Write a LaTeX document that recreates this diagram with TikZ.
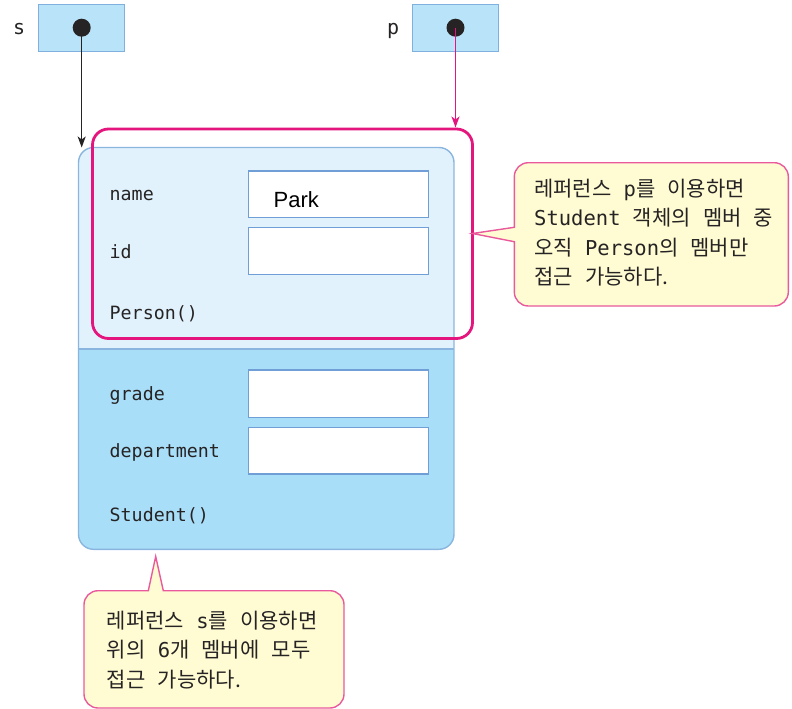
\documentclass[tikz,border=0pt]{standalone}
\usepackage{fontspec}
\setmainfont{Noto Sans CJK KR}
\newfontfamily\krfont[WordSpace=2.6]{Noto Sans CJK KR}
\newfontfamily\monofont{DejaVu Sans Mono}
\newfontfamily\arialfont{Liberation Sans}
\newcommand\latinpart[1]{{\monofont\fontsize{20.5}{29.3}\selectfont #1}}
\usetikzlibrary{arrows.meta}
\definecolor{refbox}{HTML}{B9E3F8}
\definecolor{refborder}{HTML}{7FB0DE}
\definecolor{toplight}{HTML}{E1F2FC}
\definecolor{botdark}{HTML}{A9DEF8}
\definecolor{objborder}{HTML}{8AB5DE}
\definecolor{fieldborder}{HTML}{6F9FD6}
\definecolor{hotpink}{HTML}{E5157E}
\definecolor{callfill}{HTML}{FFFCD3}
\definecolor{callborder}{HTML}{E95A9C}
\definecolor{ink}{HTML}{262324}
\tikzset{
  refcell/.style={draw=refborder, fill=refbox, line width=1.2pt},
  refdot/.style={circle, fill=ink, inner sep=0pt, minimum size=18pt},
  fieldbox/.style={draw=fieldborder, fill=white, line width=1.3pt, inner sep=0pt},
  monolabel/.style={anchor=base west, inner sep=0pt, text=ink, font=\monofont\fontsize{18.3}{20}\selectfont},
  calltext/.style={anchor=north west, inner sep=0pt, align=left, text=ink, font=\krfont\fontsize{21}{29.3}\selectfont},
  callout/.style={draw=callborder, fill=callfill, line width=1.4pt},
  arr/.style={-{Stealth[length=11pt,width=8pt,inset=3pt]}, line width=1.5pt}
}
\begin{document}
\begin{tikzpicture}[x=1pt,y=-1pt]
\useasboundingbox (0,0) rectangle (792,709);
% reference variables
\node[refcell, minimum width=85.5pt, minimum height=47.5pt, inner sep=0pt] (sbox) at (81.4,27.9) {};
\node[refcell, minimum width=85.5pt, minimum height=47.5pt, inner sep=0pt] (pbox) at (455.5,27.9) {};
\node[refdot] (sdot) at (81.7,27.7) {};
\node[refdot] (pdot) at (455.5,27.7) {};
\node[monolabel, font=\monofont\fontsize{20}{22}\selectfont] (slabel) at (13,35) {s};
\node[monolabel, font=\monofont\fontsize{20}{22}\selectfont] (plabel) at (387,35) {p};
% object
\begin{scope}
\clip[rounded corners=15pt] (78.5,147.5) rectangle (454,549.3);
\fill[toplight] (78.5,147.5) rectangle (454,349);
\fill[botdark] (78.5,349) rectangle (454,549.3);
\end{scope}
\draw[objborder, line width=1.4pt, rounded corners=15pt] (78.5,147.5) rectangle (454,549.3);
\draw[objborder, line width=1.4pt] (78.5,349) -- (454,349);
\coordinate (objtop) at (81.7,147.5);
% fields
\node[fieldbox, minimum width=180pt, minimum height=46.3pt] (fname) at (338.3,194.2) {};
\node[fieldbox, minimum width=180pt, minimum height=47.4pt] (fid) at (338.3,251) {};
\node[fieldbox, minimum width=180pt, minimum height=47.7pt] (fgrade) at (338.3,393.9) {};
\node[fieldbox, minimum width=180pt, minimum height=46.3pt] (fdept) at (338.3,450.9) {};
\node[anchor=base west, inner sep=0pt, font=\arialfont\fontsize{22}{24}\selectfont] (park) at (273.5,207) {Park};
\node[monolabel] (lname) at (109.5,200) {name};
\node[monolabel] (lid) at (109.5,258) {id};
\node[monolabel] (lperson) at (109.5,319) {Person()};
\node[monolabel] (lgrade) at (109.5,400) {grade};
\node[monolabel] (ldept) at (109.5,457) {department};
\node[monolabel] (lstudent) at (109.5,521) {Student()};
% pink frame
\draw[hotpink, line width=2.8pt, rounded corners=16pt] (92.5,129) rectangle (472.5,338.5);
\coordinate (pinktop) at (455.5,127.5);
\coordinate (pinkright) at (472.5,233.5);
% arrows
\draw[arr, ink] (sdot.center) -- (objtop);
\draw[arr, hotpink] (pdot.center) -- (pinktop);
% right callout
\draw[callout] (pinkright) -- (514.3,227.3) [rounded corners=14pt] -- (514.3,162.7) -- (788.3,162.7) -- (788.3,306) -- (514.3,306) [sharp corners] -- (514.3,241.7) -- cycle;
\node[calltext] (ptext) at (534,179) {레퍼런스 \latinpart{p}를 이용하면\\\latinpart{Student} 객체의 멤버 중\\오직 \latinpart{Person}의 멤버만\\접근 가능하다.};
% bottom callout
\coordinate (objbottom) at (155.7,556.5);
\draw[callout] (objbottom) -- (163.3,590.7) [rounded corners=14pt] -- (344,590.7) -- (344,708) -- (84,708) -- (84,590.7) [sharp corners] -- (148.3,590.7) -- cycle;
\node[calltext] (stext) at (106.7,611) {레퍼런스 \latinpart{s}를 이용하면\\위의 \latinpart{6}개 멤버에 모두\\접근 가능하다.};
\end{tikzpicture}
\end{document}
